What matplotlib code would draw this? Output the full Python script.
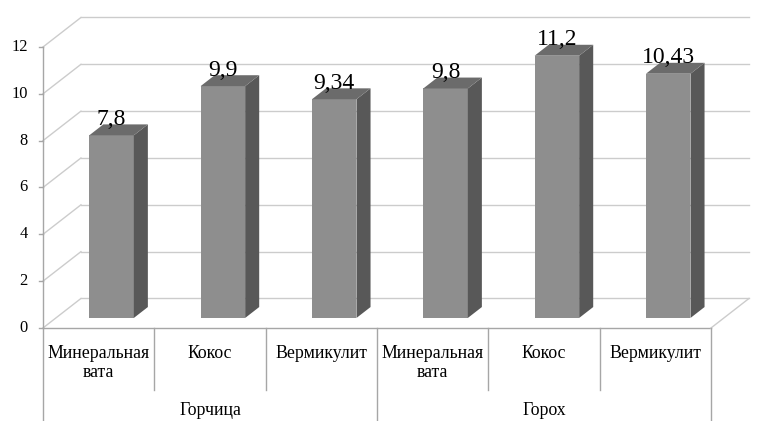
import matplotlib.pyplot as plt
from matplotlib.patches import Polygon

# data
groups = ['Горчица', 'Горох']
substrates = ['Минеральная\nвата', 'Кокос', 'Вермикулит']
values = [7.8, 9.9, 9.34, 9.8, 11.2, 10.43]
yticks = [0, 2, 4, 6, 8, 10, 12]

plt.rcParams['font.family'] = 'serif'
plt.rcParams['font.serif'] = ['Liberation Serif', 'DejaVu Serif']

fig = plt.figure(figsize=(7.74, 4.21), dpi=100)
ax = fig.add_axes([0, 0, 1, 1])
ax.set_xlim(-0.386, 6.566)
ax.set_ylim(-3.972, 14.007)
ax.axis('off')

# oblique depth of the 3d box (data units) and bar placement inside it
DX, DY = 0.341, 1.26
d0, d1 = 0.34, 0.71
bw = 0.40
ncat = len(values)
ymax = yticks[-1]

grid_c = '#cccccc'
axis_c = '#a6a6a6'

# back wall gridlines + side wall diagonals
for t in yticks:
    ax.plot([DX, ncat + DX], [t + DY, t + DY], color=grid_c, lw=1)
    ax.plot([0, DX], [t, t + DY], color=grid_c, lw=1)
    ax.plot([-0.035, 0], [t, t], color=axis_c, lw=1)
    ax.text(-0.135, t, str(t), ha='right', va='center', fontsize=11.8)

# floor
ax.plot([0, ncat], [0, 0], color=axis_c, lw=1)
ax.plot([ncat, ncat + DX], [0, DY], color=grid_c, lw=1)
ax.plot([0, 0], [ymax, -3.972], color=axis_c, lw=1)

# bars
for i, v in enumerate(values):
    xl = i + 0.5 - bw / 2 + d0 * DX
    xr = xl + bw
    ox, oy = (d1 - d0) * DX, (d1 - d0) * DY
    yb = d0 * DY
    yt = v + d0 * DY
    front = Polygon([(xl, yb), (xr, yb), (xr, yt), (xl, yt)],
                    closed=True, fc='#8e8e8e', ec='none', zorder=3)
    side = Polygon([(xr, yb), (xr + ox, yb + oy), (xr + ox, yt + oy), (xr, yt)],
                   closed=True, fc='#585858', ec='none', zorder=3)
    top = Polygon([(xl, yt), (xr, yt), (xr + ox, yt + oy), (xl + ox, yt + oy)],
                  closed=True, fc='#6b6b6b', ec='none', zorder=3)
    for p in (front, side, top):
        ax.add_patch(p)
    label = f'{v:g}'.replace('.', ',')
    ax.text((xl + xr) / 2, yt + oy - 0.02, label, ha='center', va='baseline',
            fontsize=17, zorder=4)

# two-level category axis
for i in range(ncat):
    ax.text(i + 0.5, -0.74, substrates[i % len(substrates)], ha='center', va='top',
            fontsize=12.8, linespacing=1.12)
for k in range(1, ncat):
    if k % len(substrates) == 0:
        ax.plot([k, k], [0, -3.972], color=axis_c, lw=1)
    else:
        ax.plot([k, k], [0, -2.65], color=axis_c, lw=1)
ax.plot([ncat, ncat], [0, -3.972], color=axis_c, lw=1)
for g, name in enumerate(groups):
    ax.text(g * 3 + 1.5, -3.52, name, ha='center', va='center', fontsize=12.8)

fig.savefig('out.png', dpi=100)
